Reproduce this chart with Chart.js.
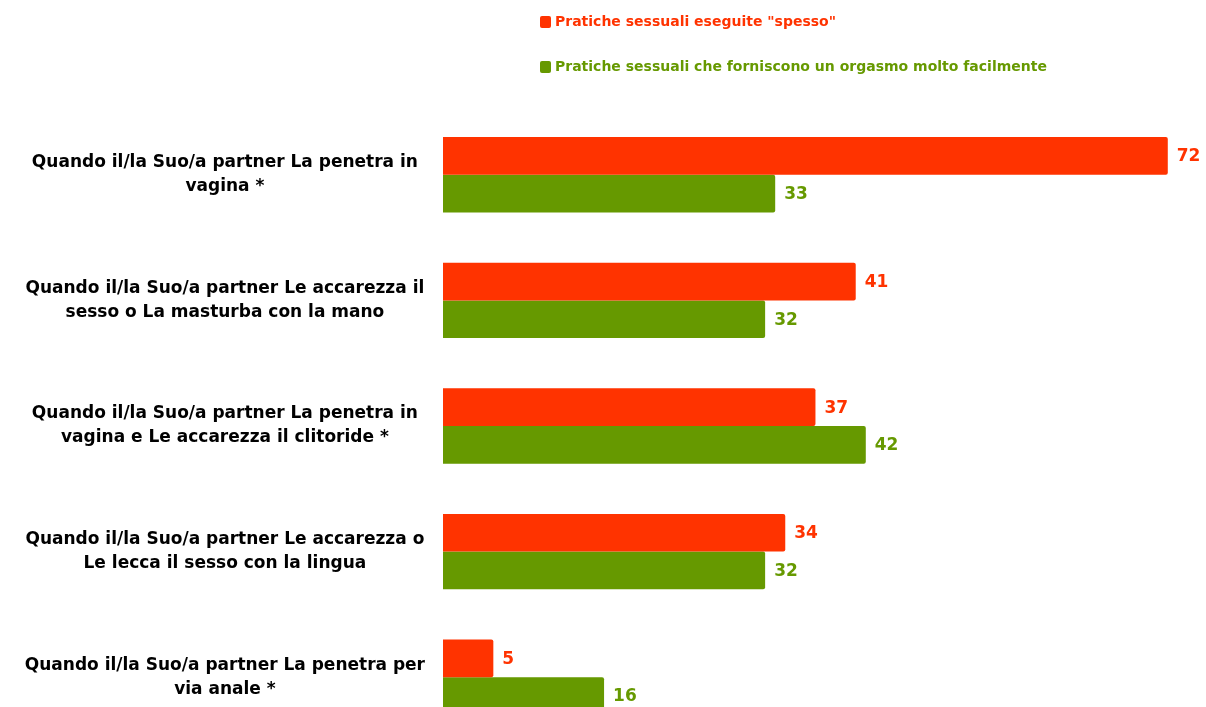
<!DOCTYPE html>
<html>
<head>
<meta charset="utf-8">
<script src="https://cdn.jsdelivr.net/npm/chart.js@4.4.1/dist/chart.umd.min.js"></script>
<style>
html,body{margin:0;padding:0;background:#fff;overflow:hidden;width:1206px;height:707px;}
canvas{display:block;}
</style>
</head>
<body>
<canvas id="c" width="1206" height="782"></canvas>
<script>
const categories = [
  ["Quando il/la Suo/a partner La penetra in", "vagina *"],
  ["Quando il/la Suo/a partner Le accarezza il", "sesso o La masturba con la mano"],
  ["Quando il/la Suo/a partner La penetra in", "vagina e Le accarezza il clitoride *"],
  ["Quando il/la Suo/a partner Le accarezza o", "Le lecca il sesso con la lingua"],
  ["Quando il/la Suo/a partner La penetra per", "via anale *"]
];
const seriesNames = ['Pratiche sessuali eseguite "spesso"', 'Pratiche sessuali che forniscono un orgasmo molto facilmente'];
const spesso = [72, 41, 37, 34, 5];
const orgasmo = [33, 32, 42, 32, 16];

const RED = '#FF3300';
const GREEN = '#669900';
const FONT = "'DejaVu Sans', sans-serif";

const valueLabels = {
  id: 'valueLabels',
  afterDatasetsDraw(chart) {
    const ctx = chart.ctx;
    ctx.save();
    ctx.font = 'bold 17px ' + FONT;
    ctx.textBaseline = 'middle';
    ctx.textAlign = 'left';
    chart.data.datasets.forEach((ds, i) => {
      const meta = chart.getDatasetMeta(i);
      ctx.fillStyle = ds.backgroundColor;
      meta.data.forEach((bar, j) => {
        ctx.fillText(String(ds.data[j]), bar.x + 9, bar.y + 1);
      });
    });
    ctx.restore();
  }
};

const topLegend = {
  id: 'topLegend',
  afterDraw(chart) {
    const ctx = chart.ctx;
    ctx.save();
    ctx.font = 'bold 14px ' + FONT;
    ctx.textBaseline = 'middle';
    ctx.textAlign = 'left';
    const ys = [22, 67];
    chart.data.datasets.forEach((ds, i) => {
      ctx.fillStyle = ds.backgroundColor;
      ctx.beginPath();
      ctx.roundRect(540, ys[i] - 6, 11, 12, 2);
      ctx.fill();
      ctx.fillText(ds.label, 555, ys[i]);
    });
    ctx.restore();
  }
};

new Chart(document.getElementById('c'), {
  type: 'bar',
  data: {
    labels: categories,
    datasets: [
      { label: seriesNames[0], data: spesso, backgroundColor: RED, borderRadius: 2, borderSkipped: 'start' },
      { label: seriesNames[1], data: orgasmo, backgroundColor: GREEN, borderRadius: 2, borderSkipped: 'start' }
    ]
  },
  options: {
    indexAxis: 'y',
    responsive: false,
    animation: false,
    layout: { padding: { top: 112, bottom: 19.5, left: 0, right: 6 } },
    plugins: { legend: { display: false }, tooltip: { enabled: false } },
    datasets: { bar: { categoryPercentage: 0.6, barPercentage: 1.0 } },
    scales: {
      x: { display: false, min: 0, max: 75.2 },
      y: {
        grid: { display: false, drawTicks: false },
        border: { display: false },
        afterFit(scale) { scale.width = 443; },
        ticks: {
          crossAlign: 'center',
          padding: 18,
          color: '#000',
          font: { family: FONT, size: 17, weight: 'bold', lineHeight: '24px' }
        }
      }
    }
  },
  plugins: [valueLabels, topLegend]
});
</script>
</body>
</html>
